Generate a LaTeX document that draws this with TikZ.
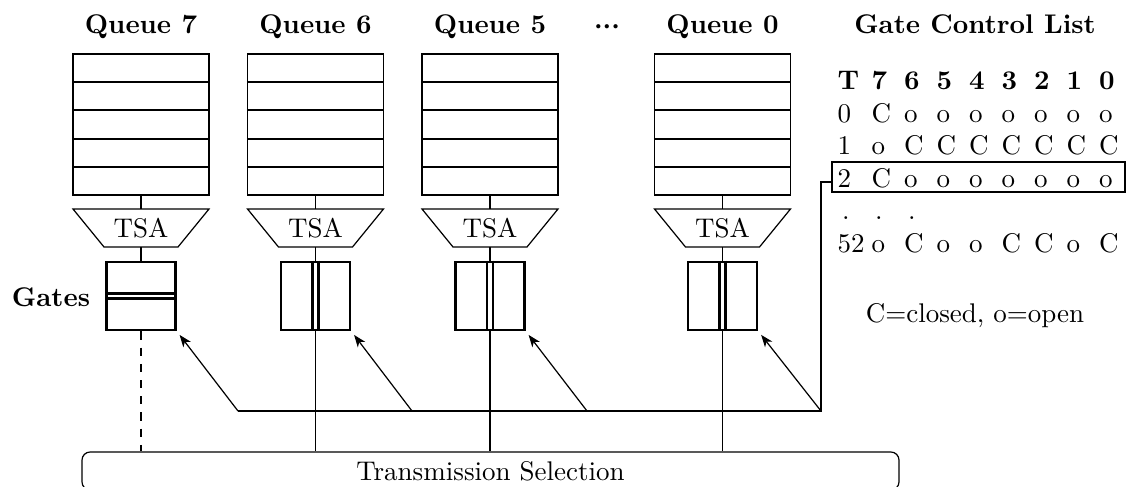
\documentclass[tikz,border=0pt]{standalone}
\usetikzlibrary{calc,arrows.meta}
\newlength\unitpx
\setlength\unitpx{0.37037pt}

\tikzset{
  wire/.style={line width=0.45pt},
  queuebox/.style={draw, line width=0.45pt, minimum width=136\unitpx,
    minimum height=141\unitpx, inner sep=0pt},
  slot/.style={line width=0.9pt},
  gatebox/.style={draw, line width=1.1pt, minimum width=69\unitpx,
    minimum height=68\unitpx, inner sep=0pt},
  gatebar/.style={line width=1.1pt},
  ctrlarrow/.style={line width=0.45pt,
    -{Stealth[length=4.5pt,width=3.4pt,inset=1.3pt]}, shorten >=1.6pt},
  heading/.style={font=\bfseries, anchor=base, inner sep=0pt},
  tsbox/.style={draw, line width=0.45pt, rounded corners=3pt,
    minimum width=817\unitpx, minimum height=38\unitpx, inner sep=0pt},
  gclcell/.style={anchor=base west, inner sep=0pt},
  gclhead/.style={gclcell, font=\bfseries},
}

\newcommand\middots{\mathord{\cdot}\mathord{\cdot}\mathord{\cdot}}

% one row of the gate control list: style, node prefix, baseline, cells
\newcommand\gclrow[4]{%
  \foreach \c [count=\i] in {#4} {%
    \pgfmathsetmacro\xx{\i==1 ? 837 : 806+32.5*\i}%
    \node[#1] (#2-\i) at (\xx,#3) {\c};
  }%
}

\begin{document}
\begin{tikzpicture}[x=0.37037pt, y=-0.37037pt]
\useasboundingbox (0,0) rectangle (1126,487);

% queue labels
\node[heading] (lab7) at (141,33) {Queue 7};
\node[heading] (lab6) at (315.5,33) {Queue 6};
\node[heading] (lab5) at (490,33) {Queue 5};
\node[heading, font=\bfseries\boldmath] (labdots) at (607,33) {$\middots$};
\node[heading] (lab0) at (722.5,33) {Queue 0};
\node[heading] (gates) at (51,306) {Gates};

% transmission selection
\node[tsbox] (ts) at (490.5,471) {Transmission Selection};

% queues, shapers and gates
\foreach \n/\cx in {7/141, 6/315.5, 5/490, 0/722.5} {
  \node[queuebox] (q\n) at (\cx,124.5) {};
  \foreach \k in {1,2,3,4}
    \draw[slot] ($(q\n.north west)!\k/5!(q\n.south west)$) --
                ($(q\n.north east)!\k/5!(q\n.south east)$);
  \coordinate (tsa\n-top) at (\cx,209);
  \coordinate (tsa\n-bot) at (\cx,247);
  \draw[wire] ($(tsa\n-top)+(-68,0)$) -- ($(tsa\n-top)+(68,0)$) --
              ($(tsa\n-bot)+(37,0)$) -- ($(tsa\n-bot)+(-37,0)$) -- cycle;
  \node (tsa\n) at (\cx,228) {TSA};
  \draw[wire] (q\n.south) -- (tsa\n-top);
  \node[gatebox] (g\n) at (\cx,296) {};
  \draw[wire] (tsa\n-bot) -- (g\n.north);
}

% gate 7 closed, the others open
\draw[gatebar] ($(g7.west)+(0,-2.5)$) -- ($(g7.east)+(0,-2.5)$);
\draw[gatebar] ($(g7.west)+(0,2.5)$) -- ($(g7.east)+(0,2.5)$);
\foreach \n in {6,5,0} {
  \draw[gatebar] ($(g\n.north)+(-3,0)$) -- ($(g\n.south)+(-3,0)$);
  \draw[gatebar] ($(g\n.north)+(3,0)$) -- ($(g\n.south)+(3,0)$);
  \draw[wire] (g\n.south) -- (g\n.south |- ts.north);
}
\draw[wire, dashed] (g7.south) -- (g7.south |- ts.north);

% gate control list
\node[heading] (gcltitle) at (975,33) {Gate Control List};
\gclrow{gclhead}{hd}{89}{T,7,6,5,4,3,2,1,0}
\gclrow{gclcell}{ra}{122}{0,C,o,o,o,o,o,o,o}
\gclrow{gclcell}{rb}{154.5}{1,o,C,C,C,C,C,C,C}
\gclrow{gclcell}{rc}{187}{2,C,o,o,o,o,o,o,o}
\gclrow{gclcell}{rd}{253}{52,o,C,o,o,C,C,o,C}
\foreach \xx [count=\i] in {846,879,912}
  \node[anchor=base, inner sep=0pt] (dot\i) at (\xx,220) {.};
\node[draw, wire, minimum width=293\unitpx, minimum height=30\unitpx,
  inner sep=0pt] (sel) at (978.5,177) {};
\node[anchor=base, inner sep=0pt] (legend) at (975,322) {C=closed, o=open};

% control lines from the active entry to the gates
\coordinate (c7) at (238,411);
\coordinate (c6) at (412,411);
\coordinate (c5) at (587,411);
\coordinate (c0) at (821,411);
\draw[wire] ([yshift=-5\unitpx]sel.west) -| (c0) -- (c7);
\foreach \n in {7,6,5,0}
  \draw[ctrlarrow] (c\n) -- (g\n.south east);
\end{tikzpicture}
\end{document}
